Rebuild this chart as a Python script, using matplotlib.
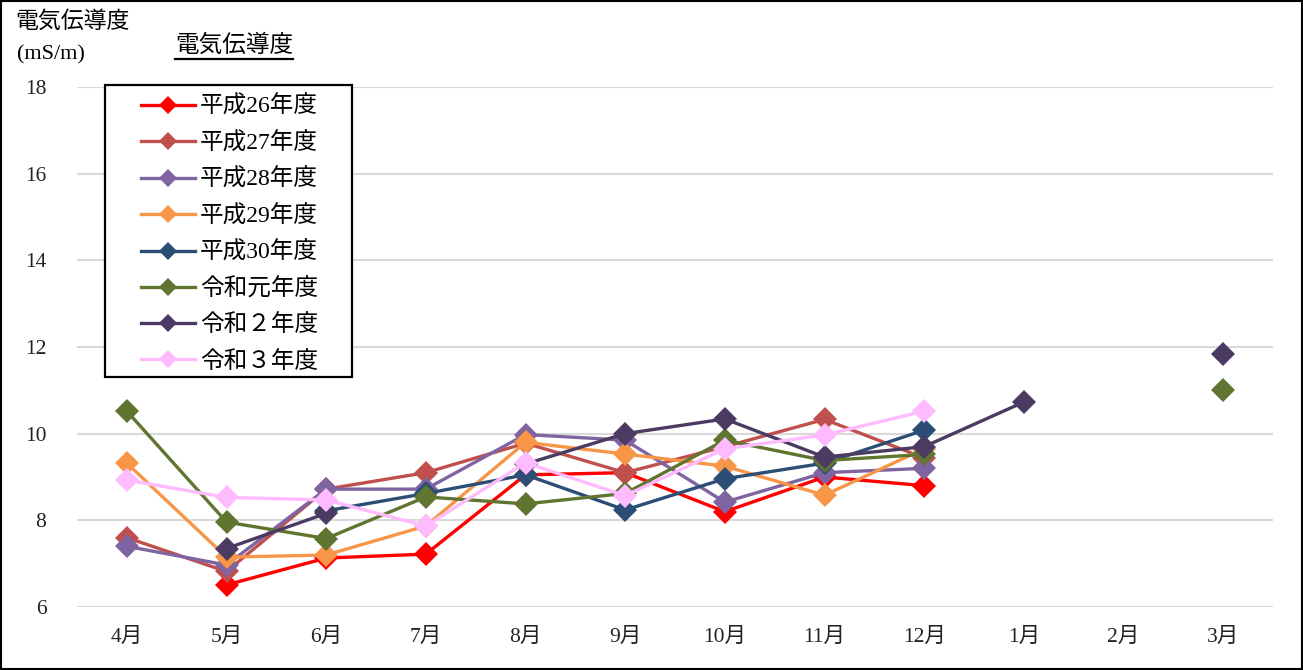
import numpy as np
import matplotlib
matplotlib.use("Agg")
import matplotlib.pyplot as plt
from matplotlib.patches import Rectangle

plt.rcParams['font.family'] = ['Liberation Serif', 'Noto Sans CJK JP', 'DejaVu Sans']

nan = np.nan
months = ["4月", "5月", "6月", "7月", "8月", "9月", "10月", "11月", "12月", "1月", "2月", "3月"]
series_names = ["平成26年度", "平成27年度", "平成28年度", "平成29年度", "平成30年度", "令和元年度", "令和２年度", "令和３年度"]
h26 = [nan, 6.51, 7.13, 7.22, 9.05, 9.10, 8.20, 9.00, 8.80, nan, nan, nan]
h27 = [7.60, 6.82, 8.72, 9.10, 9.78, 9.10, 9.70, 10.33, 9.44, nan, nan, nan]
h28 = [7.40, 6.97, 8.72, 8.72, 9.98, 9.85, 8.42, 9.10, 9.20, nan, nan, nan]
h29 = [9.32, 7.15, 7.20, 7.87, 9.80, 9.53, 9.25, 8.58, 9.65, nan, nan, nan]
h30 = [nan, nan, 8.22, 8.62, 9.05, 8.24, 8.96, 9.32, 10.08, nan, nan, nan]
r1 = [10.52, 7.96, 7.58, 8.54, 8.38, 8.62, 9.85, 9.38, 9.52, nan, nan, 11.00]
r2 = [nan, 7.35, 8.16, nan, 9.30, 10.00, 10.34, 9.46, 9.70, 10.73, nan, 11.84]
r3 = [8.93, 8.53, 8.47, 7.87, 9.33, 8.57, 9.65, 9.97, 10.52, nan, nan, nan]
all_series = [h26, h27, h28, h29, h30, r1, r2, r3]
colors = ["#ff0000", "#c0504d", "#8064a2", "#f79646", "#2c4d75", "#5f7530", "#4b3a62", "#ffbbff"]

W, H = 1303, 670
fig = plt.figure(figsize=(W / 100, H / 100), dpi=100)
ax = fig.add_axes([77/W, 1 - 607/H, (1273-77)/W, (607-87)/H])

x = np.arange(len(months))
handles = []
for name, vals, c in zip(series_names, all_series, colors):
    h, = ax.plot(x, vals, color=c, lw=2.4, marker='D', markersize=12,
                 markeredgewidth=0, label=name, zorder=3)
    handles.append(h)

ax.set_xlim(-0.5, len(months) - 0.5)
ax.set_ylim(6, 18)
ax.set_yticks([6, 8, 10, 12, 14, 16, 18])
ax.set_xticks(x)
ax.set_xticklabels(months)
ax.grid(axis='y', color='#d9d9d9', lw=1.5, zorder=0)
for s in ax.spines.values():
    s.set_visible(False)
ax.tick_params(length=0, labelsize=15.5, colors='#222222')
ax.tick_params(axis='y', pad=22)
ax.tick_params(axis='x', pad=15)

# legend frame (white box)
ax.add_patch(Rectangle((105/W, 1 - 377/H), (352-105)/W, (377-85)/H,
                       transform=fig.transFigure, facecolor='white',
                       edgecolor='black', lw=1.6, zorder=4, clip_on=False))
leg = ax.legend(handles=handles, loc='upper left',
                bbox_to_anchor=(129/W, 1 - 84/H), bbox_transform=fig.transFigure,
                fontsize=17, frameon=False, handlelength=2.3, handletextpad=0.2,
                labelspacing=0.6, borderpad=0, markerscale=0.8)
leg.set_zorder(5)

fig.text(15/W, 1 - 22/H, "電気伝導度", fontsize=16.5, va='center', ha='left')
fig.text(17/W, 1 - 55/H, "(mS/m)", fontsize=16, va='center', ha='left')
fig.text(175/W, 1 - 46/H, "電気伝導度", fontsize=17, va='center', ha='left')
fig.lines.append(plt.Line2D([175/W, 293/W], [1 - 59/H, 1 - 59/H],
                            transform=fig.transFigure, color='black', lw=1.6))

fig.patches.append(Rectangle((1/W, 1/H), 1 - 2/W, 1 - 2/H,
                             transform=fig.transFigure, fill=False,
                             edgecolor='black', lw=1.5))

fig.savefig("out.png", dpi=100)
